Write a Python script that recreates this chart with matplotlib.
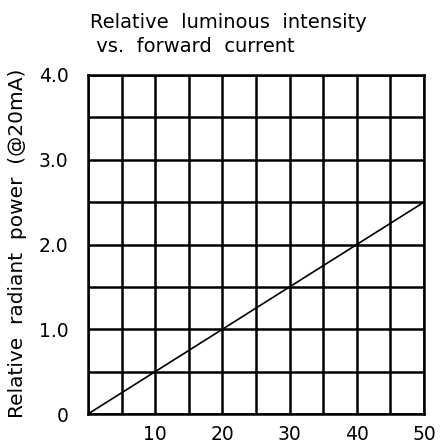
import numpy as np
import matplotlib
matplotlib.use("Agg")
import matplotlib.pyplot as plt

# data
current = [0, 10, 20, 30, 40, 50]
rel_power = [0.0, 0.5, 1.0, 1.5, 2.0, 2.5]

x_grid = np.arange(0, 51, 5)
y_grid = np.arange(0, 4.01, 0.5)
y_ticks = [0, 1, 2, 3, 4]
y_labels = ['0', '1.0', '2.0', '3.0', '4.0']
x_ticks = [10, 20, 30, 40, 50]

plt.rcParams['font.family'] = ['DejaVu Sans']
fs = 13.5

fig = plt.figure(figsize=(4.41, 4.45), dpi=100)
ax = fig.add_axes([88/441, 1 - 414/445, (424-88)/441, (414-75)/445])

# grid drawn as plain lines
for gx in x_grid:
    ax.axvline(gx, color='black', lw=1.8)
for gy in y_grid:
    ax.axhline(gy, color='black', lw=1.8)

ax.plot(current, rel_power, color='black', lw=1.2)

ax.set_xlim(0, 50)
ax.set_ylim(0, 4)
for s in ax.spines.values():
    s.set_linewidth(1.8)

ax.set_xticks(x_ticks)
ax.set_xticklabels([str(v) for v in x_ticks], fontsize=fs)
ax.set_yticks(y_ticks)
ax.set_yticklabels(y_labels, fontsize=fs)
ax.tick_params(axis='x', length=0, pad=8)
ax.tick_params(axis='y', length=0, pad=14)

fig.text(18/441, 1 - 243/445, 'Relative  radiant  power  (@20mA)', rotation=90,
         ha='center', va='center', fontsize=14.5)
fig.text(90/441, 1 - 13/445, 'Relative  luminous  intensity\n vs.  forward  current',
         ha='left', va='top', fontsize=14, linespacing=1.35)

fig.savefig('out.png', dpi=100)
